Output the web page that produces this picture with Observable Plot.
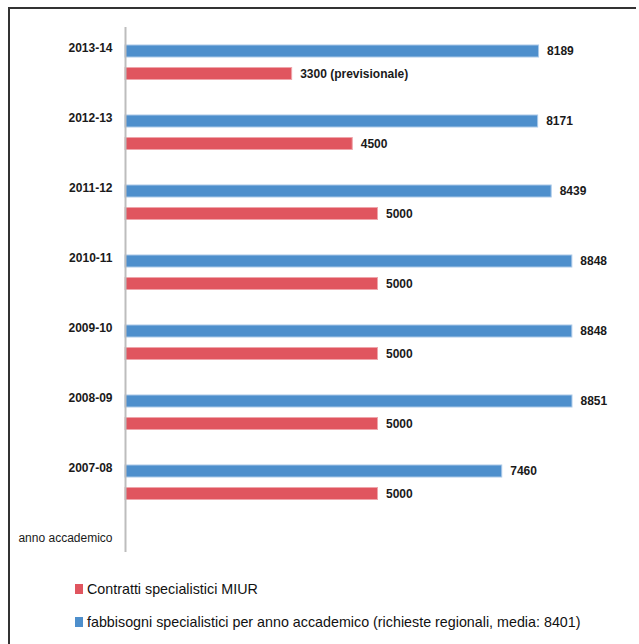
<!DOCTYPE html>
<html>
<head>
<meta charset="utf-8">
<script src="https://cdn.jsdelivr.net/npm/d3@7"></script>
<script src="https://cdn.jsdelivr.net/npm/@observablehq/plot@0.6"></script>
<style>
  html, body { margin: 0; padding: 0; background: #fff; }
  #wrap { position: relative; width: 639px; height: 644px; overflow: hidden;
          font-family: "Liberation Sans", Arial, sans-serif; }
  #frame { position: absolute; left: 8px; top: 7px; width: 628px; height: 700px;
           border-left: 2px solid #333; border-top: 2px solid #333; box-sizing: border-box; pointer-events: none; }
  #chart { position: absolute; left: 0; top: 0; }
  #legend { position: absolute; left: 75px; top: 579px; font-size: 14.3px; color: #111; }
  .item { display: flex; align-items: center; height: 20px; margin-bottom: 13px; white-space: nowrap; }
  .sw { width: 8px; height: 10px; margin-right: 4px; display: inline-block; }
</style>
</head>
<body>
<div id="wrap">
  <div id="chart"></div>
  <div id="legend"></div>
  <div id="frame"></div>
</div>
<script>
const years = ["2013-14", "2012-13", "2011-12", "2010-11", "2009-10", "2008-09", "2007-08"];
const fabbisogni = [8189, 8171, 8439, 8848, 8848, 8851, 7460];
const contratti = [3300, 4500, 5000, 5000, 5000, 5000, 5000];
const contrattiNote = ["(previsionale)", "", "", "", "", "", ""];
const axisTitle = "anno accademico";
const yDomain = [...years, axisTitle];
const seriesNames = [
  "Contratti specialistici MIUR",
  "fabbisogni specialistici per anno accademico (richieste regionali, media: 8401)"
];
const colors = ["#e0555f", "#4e8fcc"];

const blue = years.map((y, i) => ({year: y, value: fabbisogni[i], label: String(fabbisogni[i])}));
const red = years.map((y, i) => ({year: y, value: contratti[i],
  label: contrattiNote[i] ? `${contratti[i]} ${contrattiNote[i]}` : String(contratti[i])}));

const fontFam = '"Liberation Sans", Arial, sans-serif';

const chart = Plot.plot({
  width: 639,
  height: 576,
  marginLeft: 125,
  marginRight: 9,
  marginTop: 13,
  marginBottom: 3,
  style: {fontFamily: fontFam, background: "transparent"},
  x: {domain: [0, 10000], axis: null},
  y: {domain: yDomain, padding: 0, label: null},
  marks: [
    Plot.axisY({
      ticks: years, tickSize: 0, tickPadding: 13, label: null,
      fontSize: 12, fontWeight: "bold", fill: "#1a1a1a"
    }),
    Plot.axisY({
      ticks: [axisTitle], tickSize: 0, tickPadding: 13, label: null,
      fontSize: 12, fontWeight: "normal", fill: "#1a1a1a"
    }),
    Plot.barX(blue, {x: "value", y: "year", fill: colors[1], insetTop: 32, insetBottom: 26,
      stroke: "#a9c8e8", strokeWidth: 1}),
    Plot.barX(red, {x: "value", y: "year", fill: colors[0], insetTop: 54.5, insetBottom: 3.5,
      stroke: "#efa5ab", strokeWidth: 1}),
    Plot.text(blue, {x: "value", y: "year", text: "label", dx: 8, dy: 3, textAnchor: "start",
      fontSize: 12, fontWeight: "bold", fill: "#1a1a1a"}),
    Plot.text(red, {x: "value", y: "year", text: "label", dx: 8, dy: 25.5, textAnchor: "start",
      fontSize: 12, fontWeight: "bold", fill: "#1a1a1a"}),
    Plot.ruleX([0], {stroke: "#bdbdbd", strokeWidth: 2, insetTop: 14, insetBottom: 21})
  ]
});
document.getElementById("chart").appendChild(chart);

const legend = document.getElementById("legend");
seriesNames.forEach((name, i) => {
  const item = document.createElement("div");
  item.className = "item";
  const sw = document.createElement("span");
  sw.className = "sw";
  sw.style.background = colors[i];
  const t = document.createElement("span");
  t.textContent = name;
  item.appendChild(sw);
  item.appendChild(t);
  legend.appendChild(item);
});
</script>
</body>
</html>
